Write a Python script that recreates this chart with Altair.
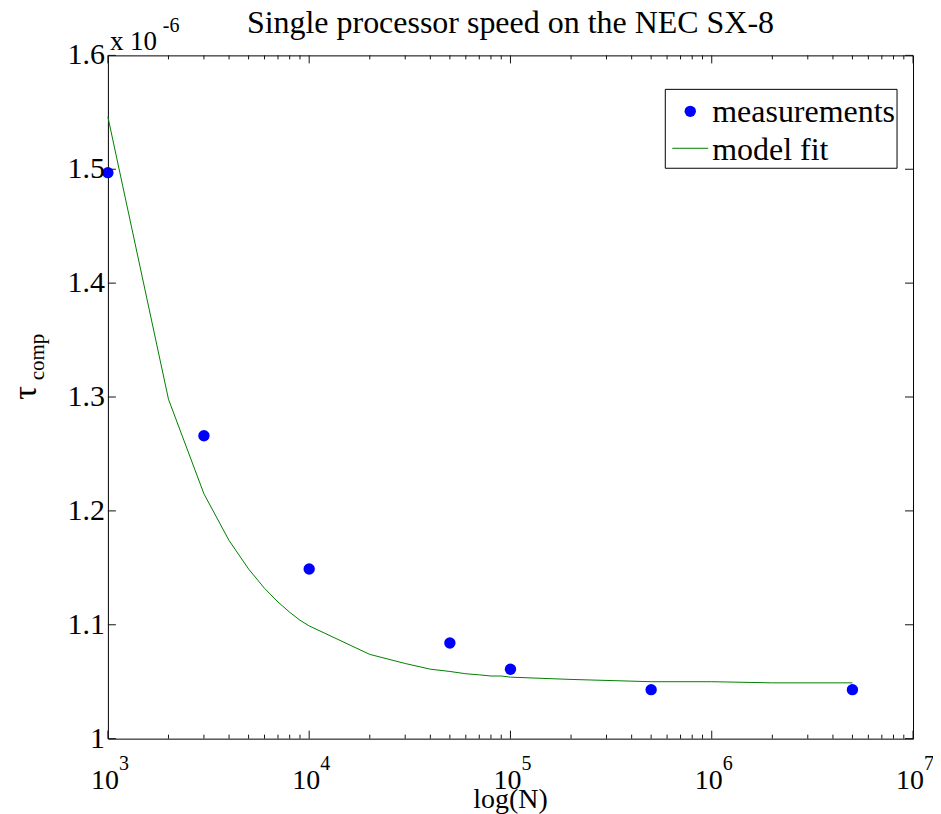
import altair as alt
import pandas as pd

# ---- data (tau in units of 1e-6) ----
N_meas = [1000, 3000, 10000, 50000, 100000, 500000, 5000000]
tau_meas = [1.497, 1.266, 1.149, 1.084, 1.061, 1.043, 1.043]

N_fit = [1000, 2000, 3000, 4000, 5000, 6000, 7000, 8000, 9000, 10000,
         20000, 30000, 40000, 50000, 60000, 70000, 80000, 90000, 100000,
         200000, 500000, 1000000, 2000000, 5000000]
tau_fit = [1.546, 1.298, 1.215, 1.174, 1.149, 1.132, 1.120, 1.111, 1.104, 1.099,
           1.074, 1.066, 1.061, 1.059, 1.057, 1.056, 1.055, 1.055, 1.054,
           1.052, 1.050, 1.050, 1.049, 1.049]

x_major = [1e3, 1e4, 1e5, 1e6, 1e7]
x_exp = ["3", "4", "5", "6", "7"]
x_minor = [m * 10 ** k for k in range(3, 7) for m in range(2, 10)]
y_ticks = [1.0, 1.1, 1.2, 1.3, 1.4, 1.5, 1.6]
y_labels = ["1", "1.1", "1.2", "1.3", "1.4", "1.5", "1.6"]

title_text = "Single processor speed on the NEC SX-8"

W, H = 806, 684
FONT = "Liberation Serif"

meas_df = pd.DataFrame({"N": N_meas, "tau": tau_meas})
fit_df = pd.DataFrame({"N": N_fit, "tau": tau_fit})
xmaj_df = pd.DataFrame({"N": x_major, "exp": x_exp})
xmin_df = pd.DataFrame({"N": x_minor})
ytick_df = pd.DataFrame({"v": y_ticks, "lab": y_labels})
one = pd.DataFrame({"a": [0]})

xscale = alt.Scale(type="log", domain=[1000, 1e7], nice=False)
yscale = alt.Scale(domain=[1.0, 1.6], nice=False, zero=False)

line = alt.Chart(fit_df).mark_line(color="#008000", strokeWidth=1).encode(
    x=alt.X("N:Q", scale=xscale, axis=None),
    y=alt.Y("tau:Q", scale=yscale, axis=None),
)

pts = alt.Chart(meas_df).mark_circle(color="#0000FF", size=130, opacity=1).encode(
    x=alt.X("N:Q", scale=xscale, axis=None),
    y=alt.Y("tau:Q", scale=yscale, axis=None),
)

tick_color = "#111111"

def xticks(df, length):
    bot = alt.Chart(df).mark_rule(color=tick_color, strokeWidth=1).encode(
        x=alt.X("N:Q", scale=xscale, axis=None), y=alt.value(H), y2=alt.value(H - length))
    top = alt.Chart(df).mark_rule(color=tick_color, strokeWidth=1).encode(
        x=alt.X("N:Q", scale=xscale, axis=None), y=alt.value(0), y2=alt.value(length))
    return [bot, top]

yt_left = alt.Chart(ytick_df).mark_rule(color=tick_color, strokeWidth=1).encode(
    y=alt.Y("v:Q", scale=yscale, axis=None), x=alt.value(0), x2=alt.value(8))
yt_right = alt.Chart(ytick_df).mark_rule(color=tick_color, strokeWidth=1).encode(
    y=alt.Y("v:Q", scale=yscale, axis=None), x=alt.value(W - 8), x2=alt.value(W))

ylab = alt.Chart(ytick_df).mark_text(font=FONT, fontSize=30, align="right",
                                     baseline="middle", color="black").encode(
    y=alt.Y("v:Q", scale=yscale, axis=None), x=alt.value(-3), text="lab:N")

xlab_base = alt.Chart(xmaj_df).mark_text(font=FONT, fontSize=28, align="center",
                                         baseline="alphabetic", dx=-3, color="black").encode(
    x=alt.X("N:Q", scale=xscale, axis=None), y=alt.value(H + 50), text=alt.value("10"))
xlab_exp = alt.Chart(xmaj_df).mark_text(font=FONT, fontSize=20, align="left",
                                        baseline="alphabetic", dx=11, color="black").encode(
    x=alt.X("N:Q", scale=xscale, axis=None), y=alt.value(H + 31), text="exp:N")

def label(text, x, y, size, align="left", angle=0, baseline="alphabetic"):
    kw = dict(font=FONT, fontSize=size, align=align, baseline=baseline, color="black")
    if angle:
        kw["angle"] = angle
    return alt.Chart(one).mark_text(**kw).encode(
        x=alt.value(x), y=alt.value(y), text=alt.value(text))

title = label(title_text, W / 2, -22, 32, align="center")
xtitle = label("log(N)", W / 2, H + 69, 28, align="center")
mult = label("x 10", 2, -5, 27)
mult_exp = label("-6", 55, -23, 20)
tau = label("τ", -82, 338, 34, align="center", angle=270, baseline="middle")
comp = label("comp", -70, 302, 21, align="center", angle=270, baseline="middle")

leg_box = alt.Chart(one).mark_rect(fill="white", stroke="black", strokeWidth=1).encode(
    x=alt.value(558), x2=alt.value(790), y=alt.value(34), y2=alt.value(113))
leg_pt = alt.Chart(one).mark_circle(color="#0000FF", size=130, opacity=1).encode(
    x=alt.value(583), y=alt.value(56))
leg_line = alt.Chart(one).mark_rule(color="#008000", strokeWidth=1).encode(
    x=alt.value(565), x2=alt.value(601), y=alt.value(93))
leg_t1 = label("measurements", 605, 67, 32)
leg_t2 = label("model fit", 605, 105, 32)

layers = [line, pts] + xticks(xmaj_df, 8) + xticks(xmin_df, 4) + [
    yt_left, yt_right, ylab, xlab_base, xlab_exp, title, xtitle, mult, mult_exp, tau, comp,
    leg_box, leg_pt, leg_line, leg_t1, leg_t2]

chart = alt.layer(*layers).properties(
    width=W, height=H,
    autosize=alt.AutoSizeParams(type="none"),
    padding={"left": 100, "top": 47, "right": 20, "bottom": 75},
).configure_view(stroke="black", strokeWidth=1)

chart.save("out.html", embed_options={"renderer": "svg", "actions": False})
